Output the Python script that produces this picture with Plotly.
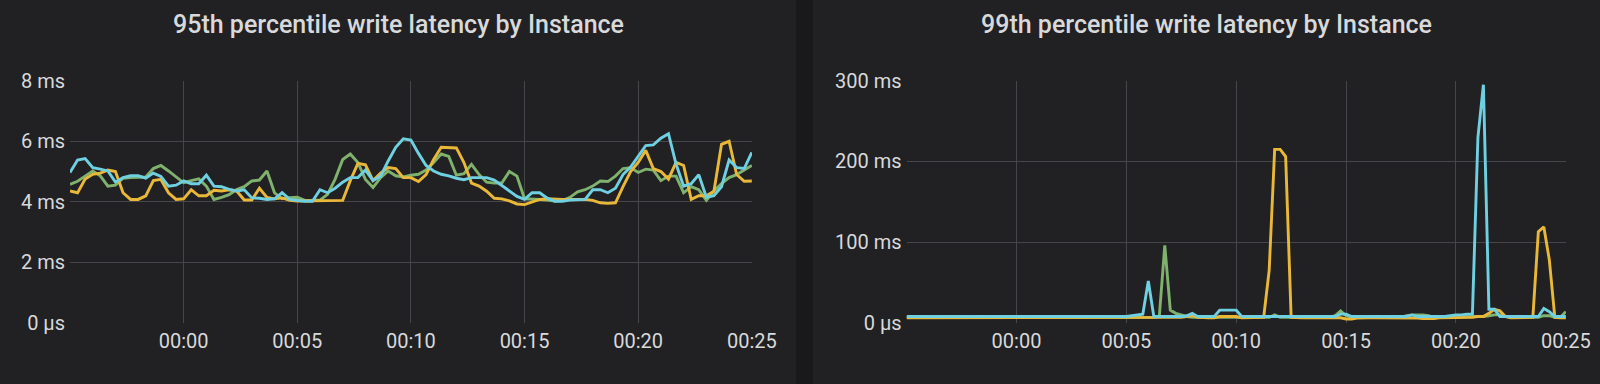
import pandas as pd
import plotly.graph_objects as go

# ---------------- data ----------------
# 95th percentile (ms), 20 s steps from 23:55 to 00:25
p95_green = [4.58, 4.68, 4.85, 5.02, 4.86, 4.52, 4.55, 4.78, 4.8, 4.8,
             4.82, 5.1, 5.2, 5.02, 4.82, 4.63, 4.7, 4.76, 4.52, 4.08,
             4.15, 4.24, 4.41, 4.5, 4.69, 4.72, 5.02, 4.3, 4.1, 4.14,
             4.15, 4.05, 4.05, 4.06, 4.25, 4.75, 5.4, 5.58, 5.3, 4.74,
             4.47, 4.8, 5.02, 4.86, 4.82, 4.88, 4.91, 5.05, 5.3, 5.58,
             5.5, 4.88, 4.93, 5.24, 4.9, 4.65, 4.62, 4.62, 5.0, 4.85,
             4.1, 4.1, 4.08, 4.06, 4.03, 4.04, 4.15, 4.33, 4.4, 4.52,
             4.69, 4.67, 4.85, 5.1, 5.13, 4.97, 5.08, 5.05, 4.7, 4.85,
             4.85, 4.3, 4.5, 4.4, 4.05, 4.36, 4.6, 4.8, 4.9, 5.05,
             5.2]
p95_yellow = [4.36, 4.3, 4.75, 4.91, 4.95, 5.05, 5.0, 4.3, 4.08, 4.08,
              4.2, 4.7, 4.74, 4.3, 4.08, 4.1, 4.4, 4.2, 4.2, 4.38,
              4.36, 4.4, 4.36, 4.06, 4.06, 4.45, 4.15, 4.1, 4.13, 4.05,
              4.03, 4.03, 4.03, 4.03, 4.03, 4.03, 4.05, 4.7, 5.27, 5.22,
              4.7, 4.95, 5.13, 5.1, 4.8, 4.8, 4.67, 4.9, 5.4, 5.8,
              5.8, 5.78, 5.3, 4.62, 4.52, 4.35, 4.12, 4.1, 4.03, 3.93,
              3.91, 4.0, 4.08, 4.1, 4.08, 4.08, 4.08, 4.08, 4.08, 4.05,
              3.97, 3.95, 3.97, 4.5, 5.0, 5.3, 5.7, 5.1, 5.0, 4.75,
              5.3, 5.2, 4.08, 4.2, 4.2, 4.35, 5.9, 6.0, 4.9, 4.68,
              4.69]
p95_cyan = [4.97, 5.38, 5.43, 5.13, 5.08, 5.02, 4.65, 4.8, 4.86, 4.86,
            4.78, 4.95, 4.84, 4.52, 4.55, 4.69, 4.6, 4.6, 4.88, 4.52,
            4.5, 4.41, 4.36, 4.4, 4.13, 4.12, 4.08, 4.1, 4.3, 4.08,
            4.05, 4.02, 4.02, 4.4, 4.3, 4.45, 4.65, 4.8, 4.8, 5.05,
            4.7, 4.85, 5.35, 5.8, 6.08, 6.04, 5.6, 5.2, 5.02, 4.91,
            4.86, 4.78, 4.73, 4.8, 4.8, 4.8, 4.72, 4.55, 4.36, 4.18,
            4.08, 4.3, 4.3, 4.12, 4.02, 4.02, 4.06, 4.08, 4.08, 4.4,
            4.4, 4.3, 4.45, 4.9, 5.15, 5.5, 5.86, 5.88, 6.1, 6.25,
            5.25, 4.52, 4.6, 4.9, 4.15, 4.2, 4.5, 5.38, 5.13, 5.1,
            5.63]

# 99th percentile (ms), 15 s steps from 23:55 to 00:25
p99_green = [7, 7, 7, 7, 7, 7, 7, 7, 7, 7,
             7, 7, 7, 7, 7, 7, 7, 7, 7, 7,
             7, 7, 7, 7, 7, 7, 7, 7, 7, 7,
             7, 7, 7, 7, 7, 7, 7, 7, 7, 7,
             7, 7, 7, 7, 7, 7, 8, 96, 16, 12,
             10, 8, 7, 7, 7, 7, 7, 7, 7, 7,
             7, 7, 7, 7, 7, 7, 7, 10, 7, 7,
             7, 7, 7, 7, 7, 7, 7, 7, 9, 15,
             9, 7, 7, 7, 7, 7, 7, 7, 7, 7,
             7, 9, 10, 10, 10, 9, 7, 7, 7, 7,
             7, 8, 8, 8, 8, 8, 9, 10, 10, 8,
             7, 7, 7, 7, 7, 7, 9, 9, 7, 7,
             14]
p99_yellow = [6.5, 6.5, 6.5, 6.5, 6.5, 6.5, 6.5, 6.5, 6.5, 6.5,
              6.5, 6.5, 6.5, 6.5, 6.5, 6.5, 6.5, 6.5, 6.5, 6.5,
              6.5, 6.5, 6.5, 6.5, 6.5, 6.5, 6.5, 6.5, 6.5, 6.5,
              6.5, 6.5, 6.5, 6.5, 6.5, 6.5, 6.5, 6.5, 6.5, 6.5,
              6.5, 6.5, 7, 7, 7, 7, 7, 6.5, 6.5, 6.5,
              7, 8, 9, 7, 6.5, 6.5, 6.5, 8, 8, 8,
              8, 6.5, 6.5, 6.5, 6.5, 7, 65, 215, 215, 206,
              7, 6.5, 6.5, 6.5, 6.5, 6.5, 6.5, 6.5, 6.5, 6.5,
              5, 5, 6, 6.5, 6.5, 6.5, 6.5, 6.5, 6.5, 6.5,
              6.5, 6.5, 6.5, 6, 5.5, 5.5, 5.5, 6.5, 6.5, 6.5,
              7, 7, 7, 7, 8, 8, 12, 17, 15, 8,
              6.5, 6.5, 6.5, 6.5, 7, 113, 119, 78, 7, 6.5,
              6.5]
p99_cyan = [8, 8, 8, 8, 8, 8, 8, 8, 8, 8,
            8, 8, 8, 8, 8, 8, 8, 8, 8, 8,
            8, 8, 8, 8, 8, 8, 8, 8, 8, 8,
            8, 8, 8, 8, 8, 8, 8, 8, 8, 8,
            8, 9, 10, 11, 52, 8, 8, 8, 8, 8,
            8, 9, 12, 8, 8, 8, 8, 16, 16, 16,
            16, 8, 8, 8, 8, 8, 8, 8, 8, 8,
            8, 8, 8, 8, 8, 8, 8, 8, 8, 11,
            11, 8, 8, 8, 8, 8, 8, 8, 8, 8,
            8, 8, 10, 8, 8, 8, 8, 8, 8, 9,
            10, 10, 11, 11, 230, 295, 17, 17, 8, 8,
            8, 8, 8, 8, 8, 8, 18, 14, 8, 8,
            8]

times_p95 = pd.date_range("2023-12-31 23:55:00", "2024-01-01 00:25:00", freq="20s")
times_p99 = pd.date_range("2023-12-31 23:55:00", "2024-01-01 00:25:00", freq="15s")

x_tick_vals = ["2024-01-01 00:00", "2024-01-01 00:05", "2024-01-01 00:10",
               "2024-01-01 00:15", "2024-01-01 00:20", "2024-01-01 00:25"]
x_tick_text = ["00:00", "00:05", "00:10", "00:15", "00:20", "00:25"]
p95_ticks = [0, 2, 4, 6, 8]
p95_tick_text = ["0 µs", "2 ms", "4 ms", "6 ms", "8 ms"]
p99_ticks = [0, 100, 200, 300]
p99_tick_text = ["0 µs", "100 ms", "200 ms", "300 ms"]

titles = ["95th percentile write latency by Instance",
          "99th percentile write latency by Instance"]

# ---------------- style ----------------
W, H = 1600, 384
PANEL = "#212124"
GAP = "#19191b"
TEXT = "#d8d9da"
GRID = "#46464a"
C_GREEN, C_YELLOW, C_CYAN = "#7eb26d", "#eab839", "#6ed0e0"
LW = 2.9

fig = go.Figure()
for y, c in [(p95_green, C_GREEN), (p95_yellow, C_YELLOW), (p95_cyan, C_CYAN)]:
    fig.add_trace(go.Scatter(x=times_p95, y=y, mode="lines",
                             line=dict(color=c, width=LW), xaxis="x", yaxis="y",
                             showlegend=False))
for y, c in [(p99_green, C_GREEN), (p99_yellow, C_YELLOW), (p99_cyan, C_CYAN)]:
    fig.add_trace(go.Scatter(x=times_p99, y=y, mode="lines",
                             line=dict(color=c, width=LW), xaxis="x2", yaxis="y2",
                             showlegend=False))

ydom = [61 / H, 303.3 / H]
xr = ["2023-12-31 23:55:00", "2024-01-01 00:25:00.5"]
common_x = dict(type="date", range=xr, tickvals=x_tick_vals, ticktext=x_tick_text,
                showgrid=True, gridcolor=GRID, gridwidth=1, zeroline=False,
                showline=False, ticks="", ticklabelstandoff=4, automargin=False,
                tickfont=dict(family="Roboto", size=20, color=TEXT))
common_y = dict(showgrid=True, gridcolor=GRID, gridwidth=1, zeroline=False,
                showline=False, ticks="", ticklabelstandoff=4, automargin=False,
                tickfont=dict(family="Roboto", size=20, color=TEXT), domain=ydom)

fig.update_layout(
    width=W, height=H, autosize=False,
    margin=dict(l=0, r=0, t=0, b=0, pad=0),
    paper_bgcolor=PANEL, plot_bgcolor="rgba(0,0,0,0)",
    showlegend=False,
    xaxis=dict(domain=[70 / W, 752 / W], anchor="y", **common_x),
    yaxis=dict(anchor="x", range=[0, 8], tickvals=p95_ticks, ticktext=p95_tick_text, **common_y),
    xaxis2=dict(domain=[906.6 / W, 1566 / W], anchor="y2", **common_x),
    yaxis2=dict(anchor="x2", range=[0, 300], tickvals=p99_ticks, ticktext=p99_tick_text, **common_y),
    shapes=[dict(type="rect", xref="paper", yref="paper", x0=796 / W, x1=813 / W,
                 y0=0, y1=1, fillcolor=GAP, line=dict(width=0), layer="below")],
    annotations=[
        dict(text=titles[0], xref="paper", yref="paper", x=398 / W, y=(H - 25) / H,
             xanchor="center", yanchor="middle", showarrow=False,
             font=dict(family="Roboto", size=25, color=TEXT, weight=500)),
        dict(text=titles[1], xref="paper", yref="paper", x=1206 / W, y=(H - 25) / H,
             xanchor="center", yanchor="middle", showarrow=False,
             font=dict(family="Roboto", size=25, color=TEXT, weight=500)),
    ],
)

fig.write_html(
    "out.html",
    config={"responsive": False, "displayModeBar": False, "staticPlot": True},
    default_width="1600px", default_height="384px",
    post_script="document.body.style.margin='0';document.body.style.overflow='hidden';"
                "document.body.style.background='#212124';",
)
